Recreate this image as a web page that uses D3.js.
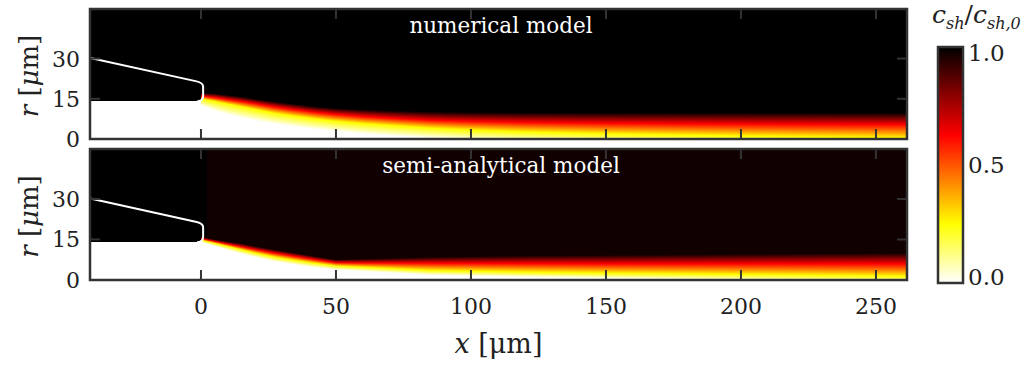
<!DOCTYPE html>
<html>
<head>
<meta charset="utf-8">
<script src="https://cdn.jsdelivr.net/npm/d3@7"></script>
<style>
  body { margin: 0; background: #fff; }
  text { font-family: 'DejaVu Serif', 'Liberation Serif', serif; }
</style>
</head>
<body>
<svg id="chart" width="1024" height="366"></svg>
<script>
// ---- data ----
// concentration levels whose radii are tracked along x
const levels = [0, 0.25, 0.625, 0.98];

// numerical model: radius [um] of each level at the stations
const numStations = [0, 5, 10, 15, 20, 27, 35, 42, 50, 60, 70, 85, 100, 120, 150, 180, 220, 262];
const numRWhite  = [12.5, 10.5, 9, 7.8, 6.8, 5.6, 4.5, 3.6, 2.8, 1.9, 1.2, 0.3, -0.4, -1, -1.8, -2.4, -3, -3.5];
const numRYellow = [15, 14, 13, 12, 11, 9.6, 8.4, 7.5, 6.6, 5.7, 5, 4, 3.3, 2.6, 1.9, 1.4, 0.8, 0.3];
const numRRed    = [16, 15.5, 14.7, 14, 13.2, 12, 10.9, 10, 9.2, 8.4, 7.8, 7, 6.6, 6.2, 5.9, 5.7, 5.5, 5.4];
const numRBlack  = [17.2, 17, 16.4, 15.8, 15, 14, 13, 12.2, 11.5, 11, 10.6, 10.2, 10, 9.9, 9.8, 9.8, 9.8, 9.8];
const numMax = 1.0;

// semi-analytical model
const semiStations = [0, 5, 10, 15, 20, 27, 35, 42, 50, 60, 85, 120, 150, 200, 262];
const semiRWhite  = [14, 12.5, 11, 9.6, 8.4, 6.8, 5.6, 4.6, 3.7, 3.2, 1.8, 1, 0.5, -0.2, -1];
const semiRYellow = [14.8, 13.6, 12.4, 11.2, 10, 8.5, 7.2, 6.2, 5.2, 4.7, 3.5, 2.9, 2.5, 2, 1.3];
const semiRRed    = [15.3, 14.3, 13.3, 12.3, 11.3, 10, 8.7, 7.6, 6.4, 6.3, 6.2, 6.1, 6, 6, 6];
const semiRBlack  = [16, 15, 14.2, 13.5, 12.5, 11.3, 10, 8.8, 7.6, 7.8, 8.5, 9, 9.2, 9.6, 10];
const semiMax = 0.975;

// nozzle outline (x, r) in um
const nozzle = [[-41, 30.2], [-2, 21.6], [0.8, 19.6], [0.8, 16], [-1.5, 14]];
const nozzleInnerR = 14;

const xTicks = [0, 50, 100, 150, 200, 250];
const rTicks = [0, 15, 30];
const cbTicks = [0, 0.5, 1];
const panelTitles = ["numerical model", "semi-analytical model"];

// ---- layout ----
const svg = d3.select("#chart");
const frame = "#333";
const ink = "#222";
const x = d3.scaleLinear().domain([-41.1, 261.5]).range([90, 907]);
const panels = [
  { top: 9, bottom: 139, title: panelTitles[0], st: numStations, r: [numRWhite, numRYellow, numRRed, numRBlack], max: numMax, blackTo: 0 },
  { top: 149, bottom: 280, title: panelTitles[1], st: semiStations, r: [semiRWhite, semiRYellow, semiRRed, semiRBlack], max: semiMax, blackTo: 2.3 },
];

// reversed "hot" colormap
const cmap = d3.scaleLinear().domain([0, 0.25, 0.625, 1])
  .range(["#ffffff", "#ffff00", "#ff0000", "#000000"]).clamp(true);

const defs = svg.append("defs");

panels.forEach((p, pi) => {
  const y = d3.scaleLinear().domain([0, 48.5]).range([p.bottom, p.top]);
  const g = svg.append("g");
  const clipId = "clip" + pi;
  defs.append("clipPath").attr("id", clipId).append("rect")
    .attr("x", x.range()[0]).attr("y", p.top)
    .attr("width", x.range()[1] - x.range()[0]).attr("height", p.bottom - p.top);
  const body = g.append("g").attr("clip-path", `url(#${clipId})`).attr("shape-rendering", "crispEdges");

  // background (outer liquid, full concentration)
  body.append("rect").attr("x", x.range()[0]).attr("y", p.top)
    .attr("width", x.range()[1] - x.range()[0]).attr("height", p.bottom - p.top)
    .attr("fill", cmap(p.max));

  // radius of each level along x, one 1px column at a time
  const lvlScales = p.r.map(arr => d3.scaleLinear().domain(p.st).range(arr).clamp(true));
  const lvls = levels.slice(0, 3).concat([p.max]);
  const rTop = 24;
  const px0 = Math.floor(x(0)), px1 = Math.ceil(x.range()[1]);
  d3.range(px0, px1).forEach(px => {
    const xc = x.invert(px + 0.5);
    const radii = lvlScales.map(s => s(xc));
    const cr = d3.scaleLinear().domain(radii).range(lvls).clamp(true);
    const pts = [0].concat(radii.filter(r => r > 0 && r < rTop)).concat([rTop]);
    const gid = `g${pi}_${px}`;
    const grad = defs.append("linearGradient").attr("id", gid)
      .attr("gradientUnits", "userSpaceOnUse")
      .attr("x1", 0).attr("x2", 0).attr("y1", y(0)).attr("y2", y(rTop));
    pts.forEach(r => grad.append("stop").attr("offset", r / rTop).attr("stop-color", cmap(cr(r))));
    body.append("rect")
      .attr("x", px).attr("y", y(rTop))
      .attr("width", 1).attr("height", y(0) - y(rTop))
      .attr("fill", `url(#${gid})`);
  });

  // nozzle region: liquid below, wall/outer region black above
  body.append("rect").attr("x", x.range()[0]).attr("y", y(nozzleInnerR))
    .attr("width", x(0) - x.range()[0]).attr("height", y(0) - y(nozzleInnerR)).attr("fill", "#fff");
  body.append("rect").attr("x", x.range()[0]).attr("y", p.top)
    .attr("width", x(0) - x.range()[0]).attr("height", y(nozzleInnerR) - p.top).attr("fill", "#000");
  if (p.blackTo > 0)
    body.append("rect").attr("x", x(0) - 0.5).attr("y", p.top)
      .attr("width", x(p.blackTo) - x(0) + 0.5).attr("height", y(16.8) - p.top).attr("fill", "#000");

  // nozzle outline with rounded corners
  const o = nozzle;
  const path = d3.path();
  path.moveTo(x(o[0][0]), y(o[0][1]));
  path.lineTo(x(o[1][0]), y(o[1][1]));
  path.quadraticCurveTo(x(o[2][0]), y(o[1][1] - 0.6), x(o[2][0]), y(o[2][1]));
  path.lineTo(x(o[3][0]), y(o[3][1]));
  path.quadraticCurveTo(x(o[3][0]), y(o[4][1]), x(o[4][0]), y(o[4][1]));
  g.append("g").attr("clip-path", `url(#${clipId})`)
    .append("path").attr("d", path.toString()).attr("fill", "none")
    .attr("stroke", "#fff").attr("stroke-width", 2);

  // ticks (inward, all four sides)
  const tk = g.append("g").attr("stroke", frame).attr("stroke-width", 2);
  xTicks.forEach(v => {
    tk.append("line").attr("x1", x(v)).attr("x2", x(v)).attr("y1", p.bottom).attr("y2", p.bottom - 10);
    tk.append("line").attr("x1", x(v)).attr("x2", x(v)).attr("y1", p.top).attr("y2", p.top + 10);
  });
  rTicks.forEach(v => {
    tk.append("line").attr("x1", x.range()[0]).attr("x2", x.range()[0] + 10).attr("y1", y(v)).attr("y2", y(v));
    tk.append("line").attr("x1", x.range()[1]).attr("x2", x.range()[1] - 10).attr("y1", y(v)).attr("y2", y(v));
  });

  g.append("rect").attr("x", x.range()[0]).attr("y", p.top)
    .attr("width", x.range()[1] - x.range()[0]).attr("height", p.bottom - p.top)
    .attr("fill", "none").attr("stroke", frame).attr("stroke-width", 2.5);

  // r tick labels
  rTicks.forEach(v => {
    g.append("text").attr("x", 80).attr("y", y(v) + 8).attr("text-anchor", "end")
      .attr("font-size", 22).attr("fill", ink).text(v);
  });
  // r label
  const yl = g.append("text").attr("transform", `translate(38,${(p.top + p.bottom) / 2 + 2}) rotate(-90)`)
    .attr("text-anchor", "middle").attr("font-size", 26).attr("fill", ink);
  yl.append("tspan").attr("font-style", "italic").text("r");
  yl.append("tspan").text(" [");
  yl.append("tspan").attr("font-style", "italic").text("μ");
  yl.append("tspan").text("m]");

  // panel title
  g.append("text").attr("x", 501).attr("y", p.top + 24).attr("text-anchor", "middle")
    .attr("font-size", 21.5).attr("fill", "#fff").text(p.title);

  if (pi === 1) {
    xTicks.forEach(v => {
      g.append("text").attr("x", x(v)).attr("y", p.bottom + 34).attr("text-anchor", "middle")
        .attr("font-size", 22).attr("fill", ink).text(v);
    });
    const xl = g.append("text").attr("x", (x.range()[0] + x.range()[1]) / 2).attr("y", p.bottom + 73)
      .attr("text-anchor", "middle").attr("font-size", 27).attr("fill", ink);
    xl.append("tspan").attr("font-style", "italic").text("x");
    xl.append("tspan").text(" [μm]");
  }
});

// ---- colorbar ----
const cb = { x: 938, w: 25, top: 47, bottom: 283 };
const cy = d3.scaleLinear().domain([0, 1]).range([cb.bottom, cb.top]);
const cbGrad = defs.append("linearGradient").attr("id", "cbGrad")
  .attr("x1", 0).attr("x2", 0).attr("y1", 1).attr("y2", 0);
cmap.domain().forEach(v => cbGrad.append("stop").attr("offset", v).attr("stop-color", cmap(v)));
svg.append("rect").attr("x", cb.x).attr("y", cb.top).attr("width", cb.w).attr("height", cb.bottom - cb.top)
  .attr("fill", "url(#cbGrad)").attr("stroke", frame).attr("stroke-width", 2.5);
cbTicks.forEach(v => {
  svg.append("text").attr("x", cb.x + cb.w + 5).attr("y", cy(v) + (v === 1 ? 14 : v === 0 ? 2 : 8))
    .attr("font-size", 23).attr("fill", ink).text(v.toFixed(1));
});
const ct = svg.append("text").attr("x", 932).attr("y", 23).attr("font-size", 25)
  .attr("fill", ink).attr("font-style", "italic");
ct.append("tspan").text("c");
ct.append("tspan").attr("font-size", 16).attr("dy", 6).text("sh");
ct.append("tspan").attr("dy", -6).attr("font-style", "normal").text("/");
ct.append("tspan").text("c");
ct.append("tspan").attr("font-size", 16).attr("dy", 6).text("sh,0");
</script>
</body>
</html>
